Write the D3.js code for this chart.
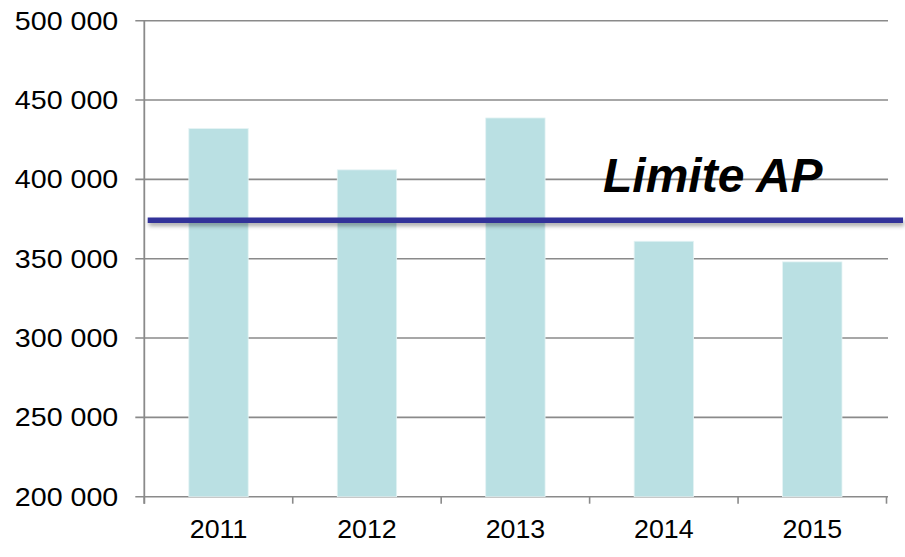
<!DOCTYPE html>
<html>
<head>
<meta charset="utf-8">
<script src="https://cdn.jsdelivr.net/npm/d3@7"></script>
<style>
  body { margin: 0; background: white; }
  text { font-family: "Liberation Sans", Arial, sans-serif; fill: #000; }
</style>
</head>
<body>
<div id="chart"></div>
<script>
// Data
var years = ["2011", "2012", "2013", "2014", "2015"];
var values = [432000, 406000, 438700, 361000, 348000];
var limitValue = 374300;
var limitLabel = "Limite AP";
var yTicks = [200000, 250000, 300000, 350000, 400000, 450000, 500000];

// Layout
var W = 905, H = 557;
var margin = {top: 20.7, right: 18.5, bottom: 60.3, left: 144.3};
var width = W - margin.left - margin.right;
var height = H - margin.top - margin.bottom;

var x_scale = d3.scaleBand()
    .domain(years)
    .range([0, width])
    .paddingInner(0.6)
    .paddingOuter(0.3);
var y_scale = d3.scaleLinear()
    .domain([200000, 500000])
    .range([height, 0]);

var fmt = function (d) { return d3.format(",")(d).replace(/,/g, " "); };

var svg = d3.select("#chart")
  .append("svg")
  .attr("width", W)
  .attr("height", H)
  .style("background-color", "white");

// Drop shadow for the limit line (user space, since the line has no height)
var defs = svg.append("defs");
var shadow = defs.append("filter")
    .attr("id", "shadow")
    .attr("filterUnits", "userSpaceOnUse")
    .attr("x", -200).attr("y", -100)
    .attr("width", W + 400).attr("height", H + 200);
shadow.append("feDropShadow")
    .attr("dx", 1).attr("dy", 3)
    .attr("stdDeviation", 2)
    .attr("flood-color", "#000")
    .attr("flood-opacity", 0.35);

var chart = svg.append("g")
    .attr("transform", "translate(" + margin.left + "," + margin.top + ")");

var gridColor = "#8a8a8a";

// Gridlines + y ticks
chart.append("g")
  .selectAll("line")
  .data(yTicks)
  .enter().append("line")
    .attr("x1", -9)
    .attr("x2", width + 1.5)
    .attr("y1", function (d) { return y_scale(d); })
    .attr("y2", function (d) { return y_scale(d); })
    .style("stroke", gridColor)
    .style("stroke-width", 1.6);

// Y labels
chart.append("g")
  .selectAll("text")
  .data(yTicks)
  .enter().append("text")
    .attr("transform", function (d) {
        return "translate(-26," + (y_scale(d) + 9) + ") scale(1.08,1)";
    })
    .style("text-anchor", "end")
    .style("font-size", "26.5px")
    .text(fmt);

// Bars
chart.append("g")
  .selectAll("rect")
  .data(values)
  .enter().append("rect")
    .attr("x", function (d, i) { return x_scale(years[i]); })
    .attr("y", function (d) { return y_scale(d); })
    .attr("width", x_scale.bandwidth())
    .attr("height", function (d) { return height - y_scale(d); })
    .style("fill", "#bae0e3")
    .style("stroke", "#e4f3f4")
    .style("stroke-width", 0.8);

// Axis lines
chart.append("line")
    .attr("x1", 0).attr("x2", 0)
    .attr("y1", 0).attr("y2", height + 7)
    .style("stroke", gridColor)
    .style("stroke-width", 1.8);

var step = x_scale.step();
var xBounds = d3.range(years.length + 1).map(function (i) { return i * step; });
chart.append("g")
  .selectAll("line")
  .data(xBounds)
  .enter().append("line")
    .attr("x1", function (d) { return d; })
    .attr("x2", function (d) { return d; })
    .attr("y1", height)
    .attr("y2", height + 7)
    .style("stroke", gridColor)
    .style("stroke-width", 1.6);

// X labels
chart.append("g")
  .selectAll("text")
  .data(years)
  .enter().append("text")
    .attr("transform", function (d) {
        return "translate(" + (x_scale(d) + x_scale.bandwidth() / 2) + "," + (height + 41.5) + ") scale(1.05,1)";
    })
    .style("text-anchor", "middle")
    .style("font-size", "25.5px")
    .text(function (d) { return d; });

// Limit line
chart.append("line")
    .attr("x1", 3.4)
    .attr("x2", W - margin.left - 2)
    .attr("y1", y_scale(limitValue))
    .attr("y2", y_scale(limitValue))
    .style("stroke", "#333399")
    .style("stroke-width", 5.5)
    .attr("filter", "url(#shadow)");

chart.append("text")
    .attr("x", 603 - margin.left)
    .attr("y", 192.3 - margin.top)
    .style("font-size", "48px")
    .style("font-weight", "bold")
    .style("font-style", "italic")
    .text(limitLabel);
</script>
</body>
</html>
